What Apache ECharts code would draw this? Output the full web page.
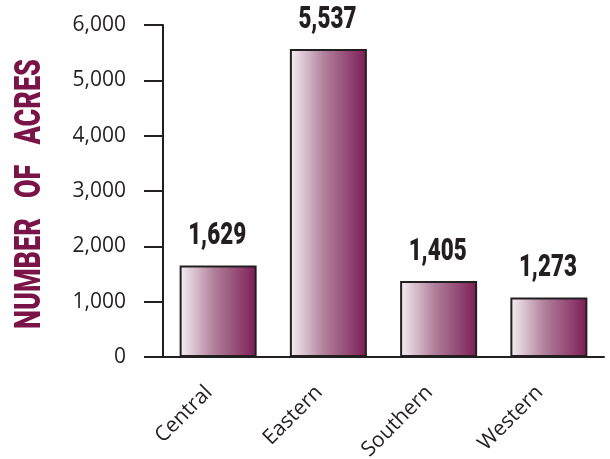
<!DOCTYPE html>
<html>
<head>
<meta charset="utf-8">
<script src="https://cdn.jsdelivr.net/npm/echarts@6/dist/echarts.min.js"></script>
<style>
html, body { margin: 0; padding: 0; background: #fff; }
#myBar { width: 610px; height: 459px; }
</style>
</head>
<body>
<div id="myBar"></div>
<script>
var categories = ['Central', 'Eastern', 'Southern', 'Western'];
// bar heights as drawn in the picture
var barValues = [1654, 5567, 1372, 1076];
// value labels printed above the bars
var labelValues = ['1,629', '5,537', '1,405', '1,273'];
var yTicks = [0, 1000, 2000, 3000, 4000, 5000, 6000];

var ink = '#231f20';
var maroon = '#7a1347';
var dom = document.getElementById("myBar");
var myBar = echarts.init(dom);
var option = {
    animation: false,
    grid: { left: 163, right: 6, top: 25, bottom: 102, outerBoundsMode: 'none', containLabel: false },
    // condensed look of the axis title
    graphic: [
        {
            type: 'text',
            x: 31,
            y: 194,
            rotation: Math.PI / 2,
            scaleX: 0.75,
            style: {
                text: 'NUMBER   OF   ACRES',
                font: '900 36px Roboto',
                fill: maroon,
                align: 'center',
                verticalAlign: 'middle',
                textAlign: 'center',
                textVerticalAlign: 'middle'
            }
        }
    ],
    xAxis: {
        type: 'category',
        data: categories,
        axisLine: { lineStyle: { color: ink, width: 2 } },
        axisTick: { length: 19, lineStyle: { color: ink, width: 2 } },
        axisLabel: {
            rotate: 45,
            margin: 23,
            padding: [0, 13, 0, 0],
            fontFamily: 'Open Sans',
            fontSize: 21,
            color: ink
        }
    },
    yAxis: {
        type: 'value',
        min: yTicks[0],
        max: yTicks[yTicks.length - 1],
        interval: 1000,
        axisLine: { show: true, lineStyle: { color: ink, width: 2 } },
        axisTick: { show: true, length: 19, lineStyle: { color: ink, width: 2 } },
        splitLine: { show: false },
        axisLabel: {
            margin: 37,
            fontFamily: 'Open Sans',
            fontSize: 21,
            color: ink,
            formatter: function (v) { return v.toLocaleString('en-US'); }
        }
    },
    series: [
        {
            type: 'bar',
            data: barValues,
            barWidth: 77,
            itemStyle: {
                borderColor: ink,
                borderWidth: 2,
                color: new echarts.graphic.LinearGradient(0, 0, 1, 0, [
                    { offset: 0, color: '#f5f0f3' },
                    { offset: 0.45, color: '#b07f9a' },
                    { offset: 1, color: '#7c1d56' }
                ])
            }
        },
        {
            // value labels, squeezed to look like a condensed face
            type: 'custom',
            data: barValues.map(function (v, i) { return [i, v]; }),
            silent: true,
            clip: false,
            z: 5,
            renderItem: function (params, api) {
                var p = api.coord([api.value(0), api.value(1)]);
                return {
                    type: 'text',
                    x: p[0] - 1,
                    y: p[1] - 13,
                    scaleX: 0.7,
                    style: {
                        text: labelValues[params.dataIndex],
                        font: '900 32px Roboto',
                        fill: ink,
                        align: 'center',
                        verticalAlign: 'bottom'
                    }
                };
            }
        }
    ]
};
myBar.setOption(option, true);
</script>
</body>
</html>
